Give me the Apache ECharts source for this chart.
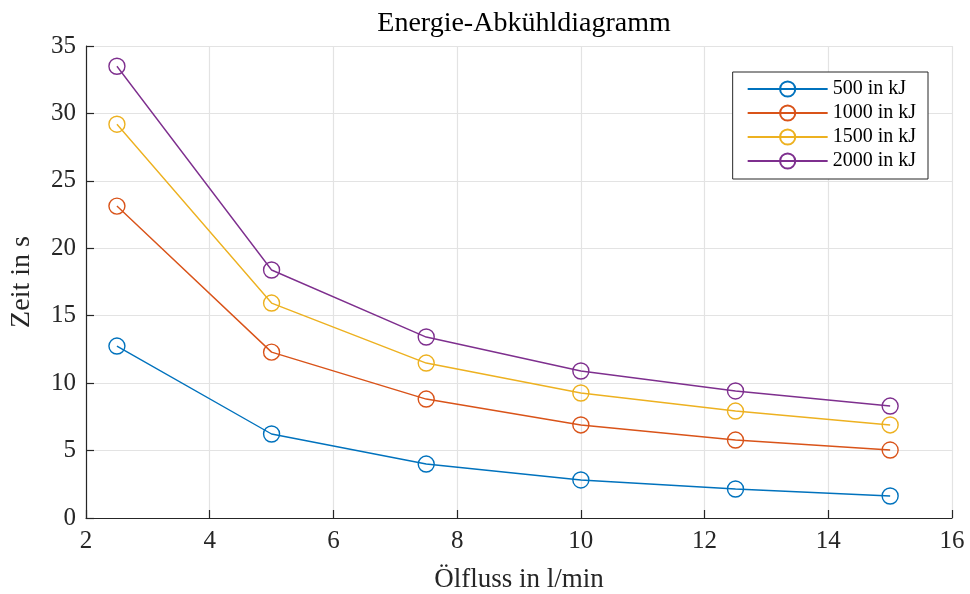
<!DOCTYPE html>
<html>
<head>
<meta charset="utf-8">
<script src="https://cdn.jsdelivr.net/npm/echarts@6/dist/echarts.min.js"></script>
<style>
  html, body { margin: 0; padding: 0; background: #fff; }
  #chart { width: 970px; height: 594px; }
</style>
</head>
<body>
<div id="chart"></div>
<script>
// Ölfluss (l/min) on the x axis
const flow = [2.5, 5, 7.5, 10, 12.5, 15];
// Abkühlzeit (s) per Energiemenge
const energy500 = [12.75, 6.23, 4.0, 2.82, 2.15, 1.63];
const energy1000 = [23.13, 12.3, 8.82, 6.9, 5.78, 5.04];
const energy1500 = [29.2, 15.94, 11.49, 9.27, 7.93, 6.9];
const energy2000 = [33.5, 18.39, 13.42, 10.9, 9.42, 8.3];
const seriesNames = ['500 in kJ', '1000 in kJ', '1500 in kJ', '2000 in kJ'];
const colors = ['#0072BD', '#D95319', '#EDB120', '#7E2F8E'];

const font = '"Liberation Serif", "DejaVu Serif", serif';
const axisColor = '#262626';

function pairs(ys) {
  return flow.map((x, i) => [x, ys[i]]);
}

const seriesData = [energy500, energy1000, energy1500, energy2000];

const chart = echarts.init(document.getElementById('chart'));
chart.setOption({
  animation: false,
  backgroundColor: '#fff',
  title: {
    text: 'Energie-Abkühldiagramm',
    left: 519,
    textAlign: 'center',
    top: 5,
    textStyle: { fontFamily: font, fontSize: 28, fontWeight: 'normal', color: '#000' }
  },
  legend: {
    right: 42,
    top: 72,
    orient: 'vertical',
    align: 'left',
    itemWidth: 80,
    itemHeight: 19,
    itemGap: 4,
    padding: [7, 12, 8, 14],
    borderColor: '#262626',
    borderWidth: 1,
    backgroundColor: '#fff',
    textStyle: { fontFamily: font, fontSize: 20, color: '#000' },
    data: seriesNames
  },
  grid: {
    left: 86, right: 18, top: 46, bottom: 76,
    containLabel: false,
    outerBoundsMode: 'none'
  },
  xAxis: {
    type: 'value',
    min: 2, max: 16, interval: 2,
    name: 'Ölfluss in l/min',
    nameLocation: 'middle',
    nameGap: 48,
    nameTextStyle: { fontFamily: font, fontSize: 27, color: axisColor },
    axisLine: { lineStyle: { color: axisColor, width: 1.2 } },
    axisTick: { inside: true, length: 8, lineStyle: { color: axisColor, width: 1.2 } },
    axisLabel: { fontFamily: font, fontSize: 25, color: axisColor, margin: 11 },
    splitLine: { show: true, lineStyle: { color: '#e3e3e3', width: 1.2 } }
  },
  yAxis: {
    type: 'value',
    min: 0, max: 35, interval: 5,
    name: 'Zeit in s',
    nameLocation: 'middle',
    nameGap: 50,
    nameTextStyle: { fontFamily: font, fontSize: 28, color: axisColor },
    axisLine: { show: true, lineStyle: { color: axisColor, width: 1.2 } },
    axisTick: { show: true, inside: true, length: 8, lineStyle: { color: axisColor, width: 1.2 } },
    axisLabel: { fontFamily: font, fontSize: 25, color: axisColor, margin: 10 },
    splitLine: { show: true, lineStyle: { color: '#e3e3e3', width: 1.2 } }
  },
  series: seriesData.map((ys, i) => ({
    name: seriesNames[i],
    type: 'line',
    data: pairs(ys),
    color: colors[i],
    symbol: 'circle',
    symbolSize: 16,
    showAllSymbol: true,
    lineStyle: { width: 1.4, color: colors[i] },
    itemStyle: { color: 'rgba(255,255,255,0)', borderColor: colors[i], borderWidth: 1.4 }
  }))
});
</script>
</body>
</html>
